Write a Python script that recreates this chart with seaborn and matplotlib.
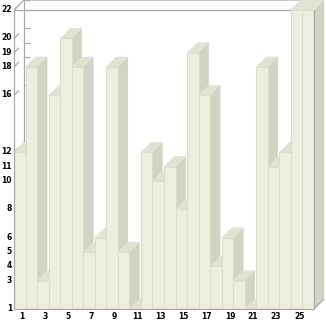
import matplotlib
matplotlib.use("Agg")
import matplotlib.pyplot as plt
from matplotlib.patches import Polygon
from matplotlib.lines import Line2D
import matplotlib.transforms as mtransforms
import numpy as np
import pandas as pd
import seaborn as sns

# ---- data ----
categories = [str(i) for i in range(1, 27)]
values = [12, 18, 3, 16, 20, 18, 5, 6, 18, 5, 1, 12, 10, 11, 8, 19, 16, 4, 6, 3, 1, 18, 11, 12, 22, 22]
xtick_labels = [str(i) for i in range(1, 27, 2)]
ytick_values = sorted(set(values))

FRONT = "#EEEEDF"
SIDE = "#D3D3C3"
TOP = "#E2E2D3"
EDGE = "#DCDCCB"
FRAME = "#A9A9A9"

W, H = 326, 321
fig = plt.figure(figsize=(W / 100, H / 100), dpi=100)
ax_l, ax_r, ax_t, ax_b = 14, 314, 10, 309
ax = fig.add_axes([ax_l / W, (H - ax_b) / H, (ax_r - ax_l) / W, (ax_b - ax_t) / H])

df = pd.DataFrame({"cat": categories, "val": values})
sns.barplot(data=df, x="cat", y="val", order=categories, color=FRONT, saturation=1,
            width=1.0, edgecolor=EDGE, linewidth=0.8, ax=ax, errorbar=None)

ymin, ymax = 1, 22
n = len(categories)
ax.set_xlim(-0.5, n - 0.5)
ax.set_ylim(ymin, ymax)
for s in ax.spines.values():
    s.set_visible(False)
ax.set_facecolor("none")
ax.set_xlabel("")
ax.set_ylabel("")

# depth offsets (10 px) in data units
px_x = (ax_r - ax_l) / n
px_y = (ax_b - ax_t) / (ymax - ymin)
ddx = 10 / px_x
ddy = 10 / px_y

# 3D side and top faces, drawn left to right
for i, p in enumerate(ax.patches):
    xl = p.get_x()
    xr = xl + p.get_width()
    h = max(p.get_height(), ymin)
    base = 10 + 3 * i
    side = Polygon([(xr, ymin), (xr + ddx, ymin + ddy), (xr + ddx, h + ddy), (xr, h)],
                   closed=True, facecolor=SIDE, edgecolor=SIDE, linewidth=0.3,
                   clip_on=False, zorder=base)
    top = Polygon([(xl, h), (xr, h), (xr + ddx, h + ddy), (xl + ddx, h + ddy)],
                  closed=True, facecolor=TOP, edgecolor=TOP, linewidth=0.3,
                  clip_on=False, zorder=base + 1)
    ax.add_patch(side)
    ax.add_patch(top)
    p.set_zorder(base + 2)

x0, x1 = -0.5, n - 0.5

def line(xs, ys, z):
    ax.add_line(Line2D(xs, ys, color=FRAME, linewidth=0.9, clip_on=False, zorder=z,
                       solid_capstyle="butt"))

# back frame
line([x0, x0 + ddx, x1 + ddx], [ymax, ymax + ddy, ymax + ddy], 1)
line([x0 + ddx, x0 + ddx], [ymin + ddy, ymax + ddy], 1)
line([x0, x1], [ymax, ymax], 1)
# ticks on left wall
for v in ytick_values:
    line([x0, x0 + ddx * 0.5], [v, v + ddy * 0.5], 2)
    line([x0 + ddx, x0 + ddx + 0.5], [v + ddy, v + ddy], 2)
# front frame on top
line([x0, x0], [ymin, ymax], 200)
line([x0, x1], [ymin, ymin], 200)
line([x1, x1], [ymin, ymax], 200)
line([x1, x1 + ddx], [ymin, ymin + ddy], 200)

# tick labels
ax.set_xticks(range(0, n, 2))
ax.set_xticklabels(xtick_labels)
ax.set_yticks(ytick_values)
ax.set_yticklabels([str(v) for v in ytick_values])
ax.tick_params(axis="both", length=0, labelsize=5.5, colors="black")
ax.tick_params(axis="x", pad=2.5)
ax.tick_params(axis="y", pad=1.5)
for lab in ax.get_xticklabels():
    lab.set_fontweight("bold")
    lab.set_transform(lab.get_transform() + mtransforms.ScaledTranslation(2.5 / 100, 0, fig.dpi_scale_trans))
for lab in ax.get_yticklabels():
    lab.set_fontweight("bold")
    lab.set_transform(lab.get_transform() + mtransforms.ScaledTranslation(0, 1.5 / 100, fig.dpi_scale_trans))

fig.savefig("out.png", dpi=100, facecolor="white")
